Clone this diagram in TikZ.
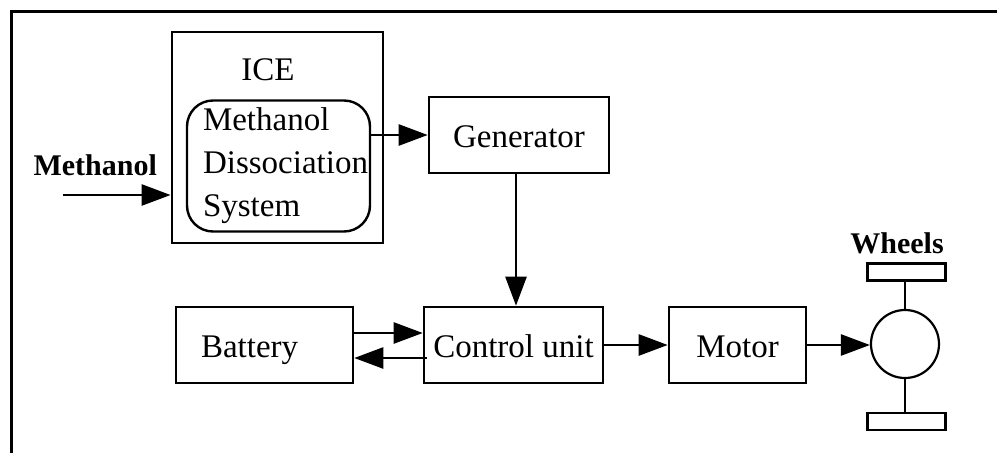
\documentclass[tikz,border=0pt]{standalone}
\usepackage{fontspec}
\setmainfont{Liberation Serif}
\usetikzlibrary{arrows.meta}
\tikzset{
  >={Triangle[length=29pt, width=21pt]},
  base box/.style={draw, line width=2.6pt, inner sep=0pt, font=\fontsize{33}{43}\selectfont},
  block/.style={base box, minimum height=76pt, align=center, text height=30pt, text depth=6pt},
  ice box/.style={base box, line width=2.8pt, minimum width=211pt, minimum height=211pt},
  mds box/.style={base box, line width=2.4pt, rounded corners=26pt, minimum width=183pt, minimum height=131pt,
                  text width=151pt, inner xsep=16pt, align=left},
  hub/.style={draw, circle, line width=2.2pt, minimum size=68pt, inner sep=0pt},
  wheel/.style={draw, line width=2.4pt, minimum width=78pt, minimum height=17pt, inner sep=0pt},
  flow arrow/.style={->, line width=2.6pt},
  axle/.style={line width=2pt},
  frame/.style={line width=3.5pt},
  label/.style={font=\fontsize{33}{36}\selectfont},
  tag/.style={font=\fontsize{30}{36}\selectfont\bfseries}
}

\begin{document}
\begin{tikzpicture}[x=1pt, y=-1pt]
  \useasboundingbox (0,0) rectangle (997,453);

  % =================================================================
  % OUTER FRAME (open on the right and bottom)
  % =================================================================
  \draw[frame] (11.5,453) -- (11.5,11.5) -- (997,11.5);

  % =================================================================
  % ENGINE SIDE: ICE WITH METHANOL DISSOCIATION SYSTEM
  % =================================================================
  \node[ice box] (ice) at (277.5,137.5) {};
  \node[label] (iceLabel) at (268,70) {ICE};
  \node[mds box] (mds) at (278.5,166) {Methanol\\Dissociation\\System};

  % fuel input
  \node[tag, anchor=south west] (fuelLabel) at (30,179) {Methanol};
  \coordinate (fuelIn) at (63,195);
  \draw[flow arrow] (fuelIn) -- (fuelIn -| ice.west);

  % =================================================================
  % GENERATOR AND ELECTRIC DRIVE CHAIN
  % =================================================================
  \node[block, minimum width=180pt] (gen) at (519,135) {Generator};
  \node[block, minimum width=179pt] (ctrl) at (513.5,345) {Control unit};
  \node[block, minimum width=177pt, text width=127pt, inner xsep=25pt, align=left] (bat) at (264.5,345) {Battery};
  \node[block, minimum width=137pt] (motor) at (737.5,345) {Motor};

  \draw[flow arrow] (mds.east |- gen.west) -- (gen.west);
  \draw[flow arrow] ([xshift=-3pt]gen.south) -- ([xshift=-3pt]gen.south |- ctrl.north);
  \draw[flow arrow] ([yshift=12pt]bat.east) -- ([yshift=12pt]bat.east -| ctrl.west);
  \draw[flow arrow] ([xshift=4pt, yshift=-13pt]ctrl.west) -- ([yshift=-13pt]bat.east);
  \draw[flow arrow] (ctrl.east) -- (motor.west);

  % =================================================================
  % WHEELS
  % =================================================================
  \node[hub] (hub) at (905,344) {};
  \node[wheel] (wheelTop) at (906.5,272) {};
  \node[wheel] (wheelBot) at (906.5,421.5) {};
  \node[tag] (wheelLabel) at (897,243) {Wheels};

  \draw[axle] (hub.north) -- (hub.north |- wheelTop.south);
  \draw[axle] (hub.south) -- (hub.south |- wheelBot.north);
  \draw[flow arrow] (motor.east) -- (motor.east -| hub.west);

\end{tikzpicture}
\end{document}
